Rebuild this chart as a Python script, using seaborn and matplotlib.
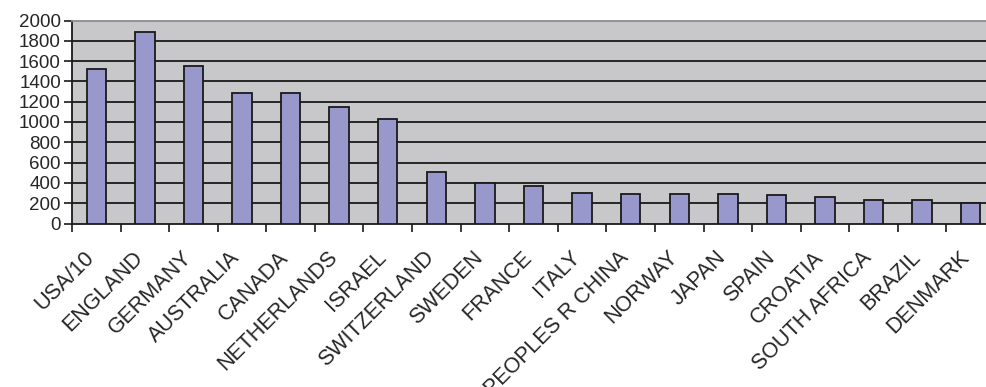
import matplotlib
matplotlib.use("Agg")
import matplotlib.pyplot as plt
import matplotlib.transforms as mtransforms
import seaborn as sns
import pandas as pd

countries = ["USA/10", "ENGLAND", "GERMANY", "AUSTRALIA", "CANADA", "NETHERLANDS",
             "ISRAEL", "SWITZERLAND", "SWEDEN", "FRANCE", "ITALY", "PEOPLES R CHINA",
             "NORWAY", "JAPAN", "SPAIN", "CROATIA", "SOUTH AFRICA", "BRAZIL", "DENMARK"]
counts = [1520, 1890, 1550, 1290, 1290, 1150, 1030, 510, 400, 370, 305, 290,
          290, 290, 280, 260, 230, 230, 200]
y_ticks = list(range(0, 2001, 200))

df = pd.DataFrame({"country": countries, "count": counts})

sns.set_theme(style="white")
plt.rcParams["font.family"] = ["Liberation Sans", "DejaVu Sans"]

W, H = 986, 387
fig = plt.figure(figsize=(W / 100, H / 100), dpi=100)
left, right, top, bottom = 72, 995, 20.5, 223.5
ax = fig.add_axes([left / W, 1 - bottom / H, (right - left) / W, (bottom - top) / H])
ax.set_facecolor("#c8c8ca")

sns.barplot(data=df, x="country", y="count", ax=ax, color="#9898cc",
            edgecolor="#1a1a1a", linewidth=1.3, width=0.4, saturation=1, zorder=3)

ax.set_ylim(0, 2000)
ax.set_xlim(-0.5, len(countries) - 0.5)
ax.set_yticks(y_ticks)
ax.set_yticklabels([str(v) for v in y_ticks], fontsize=13.5)
for v in y_ticks[1:-1]:
    ax.axhline(v, color="#262626", linewidth=1.4, zorder=1)

# category ticks at the boundaries between bars
ax.set_xticks([i - 0.5 for i in range(len(countries))], minor=True)
ax.set_xticks(range(len(countries)))
ax.set_xticklabels(countries, rotation=45, ha="right", va="center",
                   rotation_mode="anchor", fontsize=15.5)
ax.tick_params(axis="x", which="major", length=0, pad=20)
ax.tick_params(axis="x", which="minor", length=6, width=1.2, color="#1a1a1a",
               direction="out", bottom=True)
ax.tick_params(axis="y", length=6, width=1.2, color="#1a1a1a", direction="out",
               left=True, pad=2)

# nudge the slanted category names a little left and down
shift = mtransforms.ScaledTranslation(-5 / 100, -3 / 100, fig.dpi_scale_trans)
for lbl in ax.get_xticklabels():
    lbl.set_transform(lbl.get_transform() + shift)

ax.set_xlabel("")
ax.set_ylabel("")
for side in ["left", "bottom"]:
    ax.spines[side].set_color("#1a1a1a")
    ax.spines[side].set_linewidth(1.3)
ax.spines["top"].set_color("#8c8c8c")
ax.spines["top"].set_linewidth(1.3)
ax.spines["right"].set_color("#8c8c8c")

fig.savefig("out.png", dpi=100)
